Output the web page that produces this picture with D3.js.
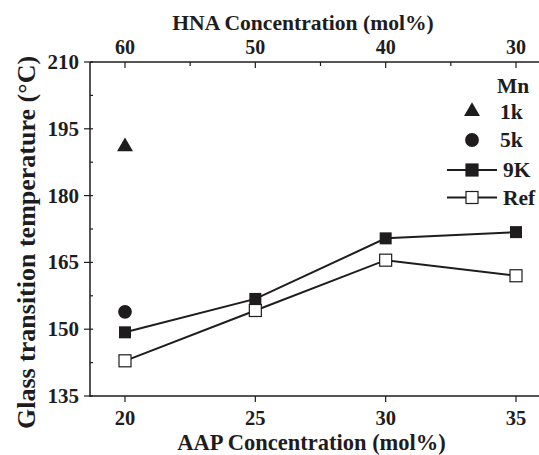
<!DOCTYPE html>
<html>
<head>
<meta charset="utf-8">
<script src="https://cdn.jsdelivr.net/npm/d3@7"></script>
<style>
  body { margin: 0; background: #fff; }
  svg text { font-family: 'Liberation Serif', 'Times New Roman', Times, serif; font-weight: bold; fill: #1f1c1d; }
</style>
</head>
<body>
<div id="chart"></div>
<script>
var w = 539, h = 455;

// data
var aap = [20, 25, 30, 35];
var tg9k = [149.3, 156.8, 170.4, 171.8];
var tgRef = [142.9, 154.2, 165.5, 162.0];
var tg1k = [{x: 20, y: 191.0}];
var tg5k = [{x: 20, y: 153.9}];
var hnaTicks = [60, 50, 40, 30];
var hnaMinor = [55, 45, 35];
var yTicks = [135, 150, 165, 180, 195, 210];
var yMinor = [142.5, 157.5, 172.5, 187.5, 202.5];
var legendItems = ["1k", "5k", "9K", "Ref"];

var pLeft = 90, pRight = 539, pTop = 62, pBottom = 396;

var x = d3.scaleLinear().domain([20, 35]).range([125, 516]);
var xTop = d3.scaleLinear().domain([60, 30]).range([125, 516]);
var y = d3.scaleLinear().domain([135, 210]).range([pBottom, pTop]);

var svg = d3.select("#chart").append("svg")
  .attr("width", w)
  .attr("height", h);

var ink = "#1f1c1d";

// axis lines
svg.append("path")
  .attr("d", "M" + pLeft + "," + pTop + "V" + pBottom + "H" + pRight)
  .style("fill", "none").style("stroke", ink).style("stroke-width", 1.5);
svg.append("path")
  .attr("d", "M" + pLeft + "," + pTop + "H" + pRight)
  .style("fill", "none").style("stroke", ink).style("stroke-width", 1.5);

// left ticks
svg.selectAll(".ymaj").data(yTicks).enter().append("line")
  .attr("x1", pLeft - 6).attr("x2", pLeft + 3)
  .attr("y1", function(d) { return y(d); }).attr("y2", function(d) { return y(d); })
  .style("stroke", ink).style("stroke-width", 1.2);
svg.selectAll(".ymin").data(yMinor).enter().append("line")
  .attr("x1", pLeft).attr("x2", pLeft + 3)
  .attr("y1", function(d) { return y(d); }).attr("y2", function(d) { return y(d); })
  .style("stroke", ink).style("stroke-width", 1.2);
svg.selectAll(".ylab").data(yTicks).enter().append("text")
  .attr("x", pLeft - 11)
  .attr("y", function(d) { return y(d) + 7; })
  .attr("text-anchor", "end")
  .style("font-size", "21px")
  .text(function(d) { return d; });

// bottom ticks
svg.selectAll(".xmaj").data(aap).enter().append("line")
  .attr("x1", function(d) { return x(d); }).attr("x2", function(d) { return x(d); })
  .attr("y1", pBottom).attr("y2", pBottom + 6)
  .style("stroke", ink).style("stroke-width", 1.2);
svg.selectAll(".xlab").data(aap).enter().append("text")
  .attr("x", function(d) { return x(d); })
  .attr("y", pBottom + 29)
  .attr("text-anchor", "middle")
  .style("font-size", "20.5px")
  .text(function(d) { return d; });

// top ticks
svg.selectAll(".tmaj").data(hnaTicks).enter().append("line")
  .attr("x1", function(d) { return xTop(d); }).attr("x2", function(d) { return xTop(d); })
  .attr("y1", pTop).attr("y2", pTop + 6)
  .style("stroke", ink).style("stroke-width", 1.2);
svg.selectAll(".tmin").data(hnaMinor).enter().append("line")
  .attr("x1", function(d) { return xTop(d); }).attr("x2", function(d) { return xTop(d); })
  .attr("y1", pTop).attr("y2", pTop + 4)
  .style("stroke", ink).style("stroke-width", 1.2);
svg.selectAll(".tlab").data(hnaTicks).enter().append("text")
  .attr("x", function(d) { return xTop(d); })
  .attr("y", pTop - 8)
  .attr("text-anchor", "middle")
  .style("font-size", "20px")
  .text(function(d) { return d; });

// titles
svg.append("text")
  .attr("x", 311.5).attr("y", 450)
  .attr("text-anchor", "middle")
  .style("font-size", "22.5px")
  .text("AAP Concentration (mol%)");
svg.append("text")
  .attr("x", 303).attr("y", 30)
  .attr("text-anchor", "middle")
  .style("font-size", "21.6px")
  .text("HNA Concentration (mol%)");
svg.append("text")
  .attr("transform", "translate(35,242.5) rotate(-90)")
  .attr("text-anchor", "middle")
  .style("font-size", "26px")
  .text("Glass transition temperature (\u00B0C)");

// lines
var line = d3.line()
  .x(function(d, i) { return x(aap[i]); })
  .y(function(d) { return y(d); });

svg.append("path").datum(tgRef).attr("d", line)
  .style("fill", "none").style("stroke", ink).style("stroke-width", 2);
svg.append("path").datum(tg9k).attr("d", line)
  .style("fill", "none").style("stroke", ink).style("stroke-width", 2);

var sq = 12;
svg.selectAll(".ref").data(tgRef).enter().append("rect")
  .attr("x", function(d, i) { return x(aap[i]) - sq / 2; })
  .attr("y", function(d) { return y(d) - sq / 2; })
  .attr("width", sq).attr("height", sq)
  .style("fill", "white").style("stroke", ink).style("stroke-width", 1.2);
svg.selectAll(".k9").data(tg9k).enter().append("rect")
  .attr("x", function(d, i) { return x(aap[i]) - sq / 2; })
  .attr("y", function(d) { return y(d) - sq / 2; })
  .attr("width", sq).attr("height", sq)
  .style("fill", ink);

var tri = d3.symbol().type(d3.symbolTriangle).size(110);
var circ = d3.symbol().type(d3.symbolCircle).size(150);

svg.selectAll(".k1").data(tg1k).enter().append("path")
  .attr("d", tri)
  .attr("transform", function(d) { return "translate(" + x(d.x) + "," + y(d.y) + ")"; })
  .style("fill", ink);
svg.selectAll(".k5").data(tg5k).enter().append("path")
  .attr("d", circ)
  .attr("transform", function(d) { return "translate(" + x(d.x) + "," + y(d.y) + ")"; })
  .style("fill", ink);

// legend
var lg = svg.append("g").attr("transform", "translate(472,0)");
lg.append("text").attr("x", 25).attr("y", 93).style("font-size", "21.5px").text("Mn");
var ly = [111.5, 140, 170, 197.5];
var lx = [28, 28, 31, 31];
lg.selectAll(".lt").data(legendItems).enter().append("text")
  .attr("x", function(d, i) { return lx[i]; })
  .attr("y", function(d, i) { return ly[i] + 7; })
  .style("font-size", "21.5px")
  .text(function(d) { return d; });
lg.append("path").attr("d", tri).attr("transform", "translate(0," + ly[0] + ")").style("fill", ink);
lg.append("path").attr("d", circ).attr("transform", "translate(0," + ly[1] + ")").style("fill", ink);
[2, 3].forEach(function(i) {
  lg.append("line").attr("x1", -25).attr("x2", 25)
    .attr("y1", ly[i]).attr("y2", ly[i])
    .style("stroke", ink).style("stroke-width", 2);
  lg.append("rect")
    .attr("x", -sq / 2).attr("y", ly[i] - sq / 2)
    .attr("width", sq).attr("height", sq)
    .style("fill", i == 2 ? ink : "white")
    .style("stroke", ink).style("stroke-width", 1.2);
});
</script>
</body>
</html>
